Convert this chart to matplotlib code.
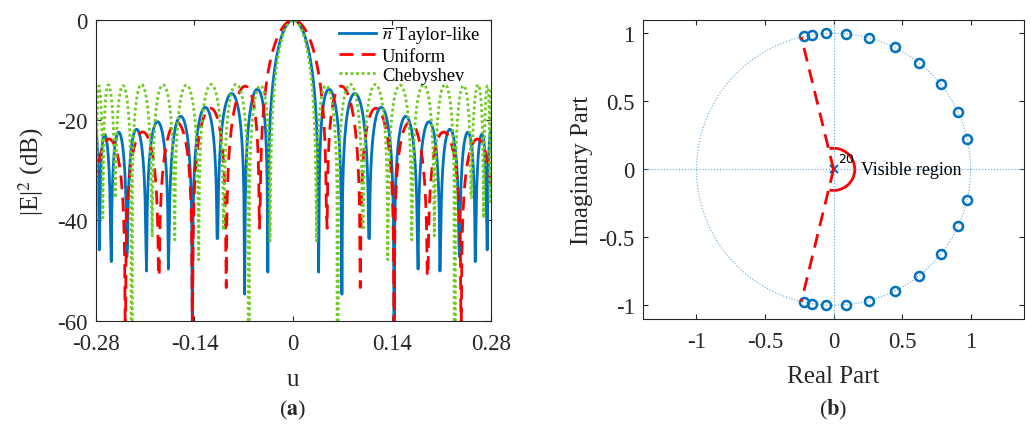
import matplotlib
matplotlib.use('Agg')
import matplotlib.pyplot as plt
import numpy as np
from matplotlib.patches import Arc

# nulls of each pattern on the positive-u side (patterns are symmetric)
taylor_null_deg = [13.0, 24.8, 38.7, 51.5, 63.6, 75.0, 84.8, 93.0, 98.9, 102.3]
uniform_null_u = [0.0476, 0.0952, 0.1429, 0.1905, 0.2381, 0.2857, 0.3333, 0.3810, 0.4286, 0.4762]
cheb_null_u = [0.0328, 0.0630, 0.0986, 0.1342, 0.1683, 0.2003, 0.2290, 0.2525, 0.2698, 0.2789]
series_labels = [r'$\overline{n}$ Taylor-like', 'Uniform', 'Chebyshev']

u_ticks = [-0.28, -0.14, 0, 0.14, 0.28]
u_tick_labels = ['-0.28', '-0.14', '0', '0.14', '0.28']
db_ticks = [-60, -40, -20, 0]
visible_edge_deg = 103.6
n_poles = 20

plt.rcParams['font.family'] = ['Liberation Serif', 'DejaVu Serif']
plt.rcParams['mathtext.fontset'] = 'stix'
plt.rcParams['axes.unicode_minus'] = False

BLUE = '#0072BD'
RED = '#FF0000'
GREEN = '#6ECC1E'
AXC = '#262626'


def pattern_db(u, nulls_u):
    """|AF|^2 in dB from zero locations on the unit circle, psi = 2*pi*u."""
    nulls = np.asarray(nulls_u)
    zeros = 2 * np.pi * np.concatenate([nulls, -nulls])
    psi = 2 * np.pi * u
    af = np.ones_like(u)
    af0 = 1.0
    for p in zeros:
        af = af * np.abs(2 * np.sin((psi - p) / 2))
        af0 *= abs(2 * np.sin(-p / 2))
    return 20 * np.log10(af / af0 + 1e-9)


def style_axes(ax):
    for s in ax.spines.values():
        s.set_color(AXC)
        s.set_linewidth(0.8)
    ax.tick_params(direction='in', top=True, right=True, length=3.5, width=0.8,
                   colors=AXC, labelsize=16.5)
    ax.tick_params(axis='x', pad=9)
    ax.tick_params(axis='y', pad=6)


fig = plt.figure(figsize=(10.34, 4.27), dpi=100)

# ---- (a) array patterns
ax = fig.add_axes([0.0926, 0.2466, 0.382, 0.704])
u = np.linspace(-0.28, 0.28, 561)
taylor_u = np.array(taylor_null_deg) / 360.0
ax.plot(u, pattern_db(u, taylor_u), color=BLUE, lw=2.0, label=series_labels[0])
ax.plot(u, pattern_db(u, uniform_null_u), color=RED, lw=2.0, dashes=(5, 3), label=series_labels[1])
ax.plot(u, pattern_db(u, cheb_null_u), color=GREEN, lw=2.0, dashes=(1, 1), label=series_labels[2])
ax.set_xlim(-0.28, 0.28)
ax.set_ylim(-60, 0)
ax.set_xticks(u_ticks, labels=u_tick_labels)
ax.set_yticks(db_ticks)
style_axes(ax)
ax.set_xlabel('u', fontsize=18, color=AXC, labelpad=10)
ax.set_ylabel(r'|E|$^2$ (dB)', fontsize=18, color=AXC, labelpad=8)
ax.legend(loc='upper right', frameon=False, fontsize=13.3, handlelength=2.05,
          handletextpad=0.3, labelspacing=0.12, borderaxespad=0.05,
          bbox_to_anchor=(0.995, 1.013))

# ---- (b) zero plot
bx = fig.add_axes([0.6219, 0.2506, 0.3685, 0.701])
t = np.linspace(0, 2 * np.pi, 400)
bx.plot(np.cos(t), np.sin(t), color='#5DA9DD', lw=0.8, ls=':')
bx.axhline(0, color='#5DA9DD', lw=0.8, ls=':')
bx.axvline(0, color='#5DA9DD', lw=0.8, ls=':')
ang = np.deg2rad(np.concatenate([taylor_null_deg, -np.array(taylor_null_deg)]))
bx.plot(np.cos(ang), np.sin(ang), 'o', ms=6.5, mfc='none', mec=BLUE, mew=1.8)
bx.plot([0], [0], 'x', ms=6, mec=BLUE, mew=1.5)
bx.text(0.03, 0.03, str(n_poles), fontsize=9, family='DejaVu Sans', ha='left', va='bottom')
edge = np.deg2rad(visible_edge_deg)
for sgn in (1, -1):
    bx.plot([0, np.cos(edge)], [0, sgn * np.sin(edge)], color=RED, lw=2.0, dashes=(5, 3))
bx.add_patch(Arc((0, 0), 0.31, 0.31, theta1=-101, theta2=101, color=RED, lw=2.0))
bx.text(0.2, 0.0, 'Visible region', fontsize=12.9, ha='left', va='center')
bx.set_xlim(-1.39, 1.39)
bx.set_ylim(-1.1, 1.1)
bx.set_xticks([-1, -0.5, 0, 0.5, 1], labels=['-1', '-0.5', '0', '0.5', '1'])
bx.set_yticks([-1, -0.5, 0, 0.5, 1], labels=['-1', '-0.5', '0', '0.5', '1'])
style_axes(bx)
bx.set_xlabel('Real Part', fontsize=18, color=AXC, labelpad=9)
bx.set_ylabel('Imaginary Part', fontsize=18, color=AXC, labelpad=4)

fig.text(293 / 1034, 1 - 410 / 427, r'($\mathbf{a}$)', fontsize=16, ha='center', va='center', color=AXC)
fig.text(833 / 1034, 1 - 410 / 427, r'($\mathbf{b}$)', fontsize=16, ha='center', va='center', color=AXC)

fig.savefig('out.png', dpi=100)
